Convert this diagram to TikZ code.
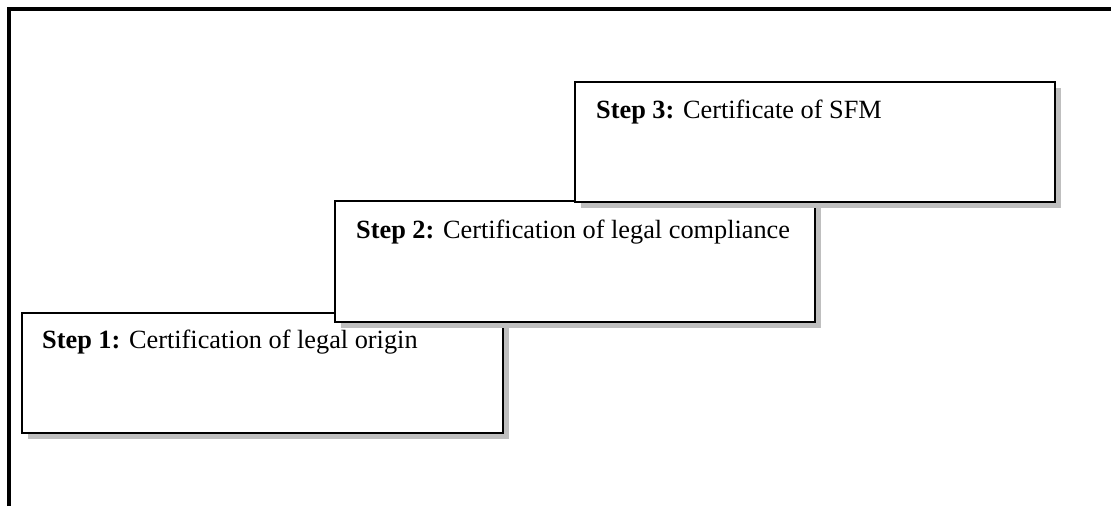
\documentclass[tikz,border=0pt]{standalone}
\usepackage{fontspec}
\setmainfont{Liberation Serif}
\begin{document}
\begin{tikzpicture}[x=1pt,y=-1pt,
  frameline/.style={line width=4pt,black},
  stepshadow/.style={fill=black!25,draw=none},
  stepbox/.style={draw=black,line width=2pt,fill=white},
  steptext/.style={anchor=base west,inner sep=0pt,font=\fontsize{26.3}{31}\selectfont}]
\useasboundingbox (0,0) rectangle (1111,506);
% open frame: left and top edges
\draw[frameline] (9,506) -- (9,9) -- (1113,9);
% step 1
\fill[stepshadow] (28,319) rectangle (509,439);
\draw[stepbox] (22,313) rectangle (503,433);
\node[steptext] (s1) at (42,348) {\textbf{Step 1:} Certification of legal origin};
% step 2
\fill[stepshadow] (341,207) rectangle (821,328);
\draw[stepbox] (335,201) rectangle (815,322);
\node[steptext] (s2) at (356,238) {\textbf{Step 2:} Certification of legal compliance};
% step 3
\fill[stepshadow] (581,88) rectangle (1061,208);
\draw[stepbox] (575,82) rectangle (1055,202);
\node[steptext] (s3) at (596,118) {\textbf{Step 3:} Certificate of SFM};
\end{tikzpicture}
\end{document}
